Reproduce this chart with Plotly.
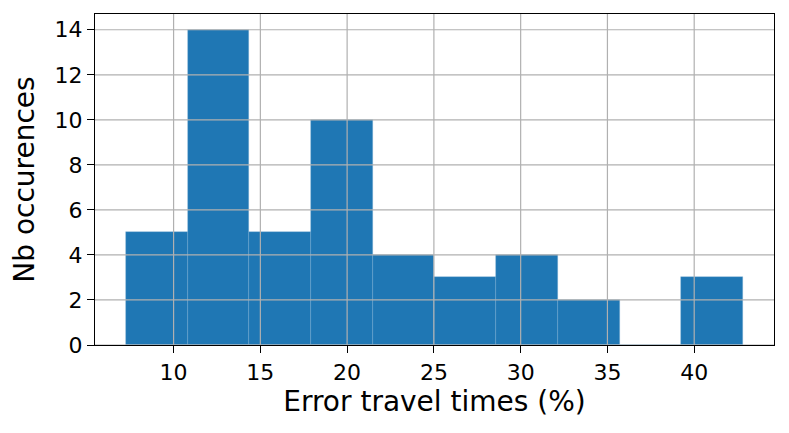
import plotly.graph_objects as go

# Histogram data
bin_edges = [7.25, 10.81, 14.36, 17.92, 21.48, 25.03, 28.59, 32.15, 35.70, 39.26, 42.82]
counts = [5, 14, 5, 10, 4, 3, 4, 2, 0, 3]
x_ticks = [10, 15, 20, 25, 30, 35, 40]
y_ticks = [0, 2, 4, 6, 8, 10, 12, 14]

centers = [(a + b) / 2 for a, b in zip(bin_edges[:-1], bin_edges[1:])]
widths = [b - a for a, b in zip(bin_edges[:-1], bin_edges[1:])]

span = bin_edges[-1] - bin_edges[0]
x_range = [bin_edges[0] - 0.05 * span, bin_edges[-1] + 0.05 * span]
y_range = [0, max(counts) * 1.05]

fig = go.Figure()
fig.add_trace(go.Bar(
    x=centers, y=counts, width=widths,
    marker=dict(color="#1f77b4", line=dict(width=0.6, color="rgba(120,170,210,0.6)")),
    showlegend=False,
))

grid_color = "#b0b0b0"
shapes = []
for t in x_ticks:
    shapes.append(dict(type="line", xref="x", yref="paper", x0=t, x1=t, y0=0, y1=1,
                       line=dict(color=grid_color, width=1.2), layer="above"))
for t in y_ticks:
    shapes.append(dict(type="line", xref="paper", yref="y", x0=0, x1=1, y0=t, y1=t,
                       line=dict(color=grid_color, width=1.2), layer="above"))

font = "DejaVu Sans"
axis_common = dict(
    showline=True, mirror=True, linecolor="black", linewidth=1.3,
    ticks="outside", ticklen=7, tickwidth=1.3, tickcolor="black",
    showgrid=False, zeroline=False, automargin=False,
    tickfont=dict(family=font, size=22, color="black"),
)

fig.update_layout(
    width=789, height=433,
    margin=dict(l=87, r=23, t=6, b=96),
    paper_bgcolor="white", plot_bgcolor="white",
    bargap=0,
    shapes=shapes,
    xaxis=dict(range=x_range, tickvals=x_ticks,
               title=dict(text="Error travel times (%)", font=dict(family=font, size=28, color="black"), standoff=4),
               **axis_common),
    yaxis=dict(range=y_range, tickvals=y_ticks,
               title=dict(text="Nb occurences", font=dict(family=font, size=28, color="black")),
               **axis_common),
)

fig.write_html("out.html")
